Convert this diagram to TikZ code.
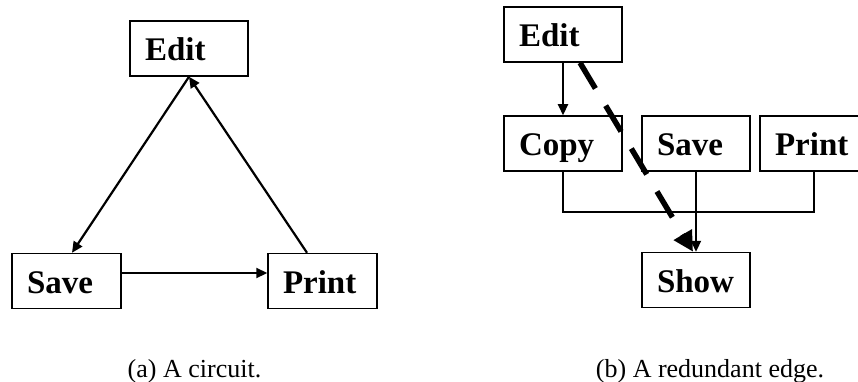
\documentclass[tikz,border=0pt]{standalone}
\usepackage{fontspec}
\setmainfont{Liberation Serif}
\usetikzlibrary{arrows.meta,calc}

\tikzset{
  box/.style={draw, rectangle, line width=1.5pt, inner xsep=15pt, inner ysep=0pt,
    minimum height=55pt, align=left, text height=24pt, text depth=0pt,
    font=\fontsize{33}{33}\selectfont\bfseries},
  link/.style={line width=2.2pt, -{Triangle[length=11pt,width=10pt]}},
  plain/.style={line width=2.2pt},
  redundant/.style={line width=5.5pt, dash pattern=on 30pt off 20pt,
    -{Triangle[length=20pt,width=20pt]}},
  caption/.style={anchor=base, inner sep=0pt, font=\fontsize{26}{26}\selectfont}
}

\begin{document}
\begin{tikzpicture}[x=1pt, y=-1pt]
  \useasboundingbox (0,0) rectangle (858,382);

  % (a) a cycle of three programs
  \node[box, text width=88pt] (edita)  at (189,48.5) {Edit};
  \node[box, text width=79pt] (savea)  at (66.5,281) {Save};
  \node[box, text width=79pt] (printa) at (322.5,281) {Print};

  \draw[link] (edita.south) -- ($(savea.north)+(5.5,0)$);
  \draw[link] ($(printa.north)+(-15.5,0)$) -- (edita.south);
  \draw[link] ($(savea.east)+(0,-8)$) -- ($(printa.west)+(0,-8)$);

  \node[caption] (capa) at (194.5,377) {(a) A circuit.};

  % (b) a DAG with one redundant edge
  \node[box, text width=88pt] (editb)  at (563,34.5) {Edit};
  \node[box, text width=88pt] (copyb)  at (563,143.5) {Copy};
  \node[box, text width=78pt] (saveb)  at (696,143.5) {Save};
  \node[box, text width=78pt] (printb) at (814,143.5) {Print};
  \node[box, text width=78pt] (showb)  at (696,280) {Show};

  \draw[link] (editb.south) -- (copyb.north);
  \draw[plain] (copyb.south) -- ++(0,40) -| (printb.south);
  \draw[link] (saveb.south) -- (showb.north);
  \draw[redundant] ($(editb.south)+(17,0)$) -- ($(showb.north)+(-3,0)$);

  \node[caption] (capb) at (710,377) {(b) A redundant edge.};
\end{tikzpicture}
\end{document}
